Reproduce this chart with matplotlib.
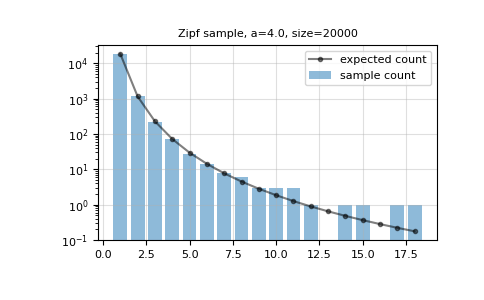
import matplotlib
matplotlib.use('Agg')
import matplotlib.pyplot as plt

a = 4.0
n = 20000

# nilai k dan jumlah sampel
k = [1, 2, 3, 4, 5, 6, 7, 8, 9, 10, 11, 12, 13, 14, 15, 16, 17, 18]
sample_count = [18500, 1200, 220, 72, 27, 14, 8, 6, 3, 3, 3, 1, 0, 1, 1, 0, 1, 1]
expected_count = [18479, 1155, 228, 72.2, 29.6, 14.3, 7.70, 4.51, 2.82, 1.85,
                  1.26, 0.891, 0.647, 0.481, 0.365, 0.282, 0.221, 0.176]

fig = plt.figure(figsize=(4.85, 3.0), dpi=100)
ax = fig.add_axes([0.202, 0.2, 0.699, 0.65])

ax.bar(k, sample_count, alpha=0.5, label='sample count')
ax.plot(k, expected_count, 'k.-', alpha=0.5, label='expected count')
ax.semilogy()
ax.set_ylim(0.1, None)
ax.grid(alpha=0.4)
ax.legend(fontsize=8)
ax.tick_params(labelsize=8)
ax.set_title(f'Zipf sample, a={a}, size={n}', fontsize=8)

fig.savefig('out.png', dpi=100)
